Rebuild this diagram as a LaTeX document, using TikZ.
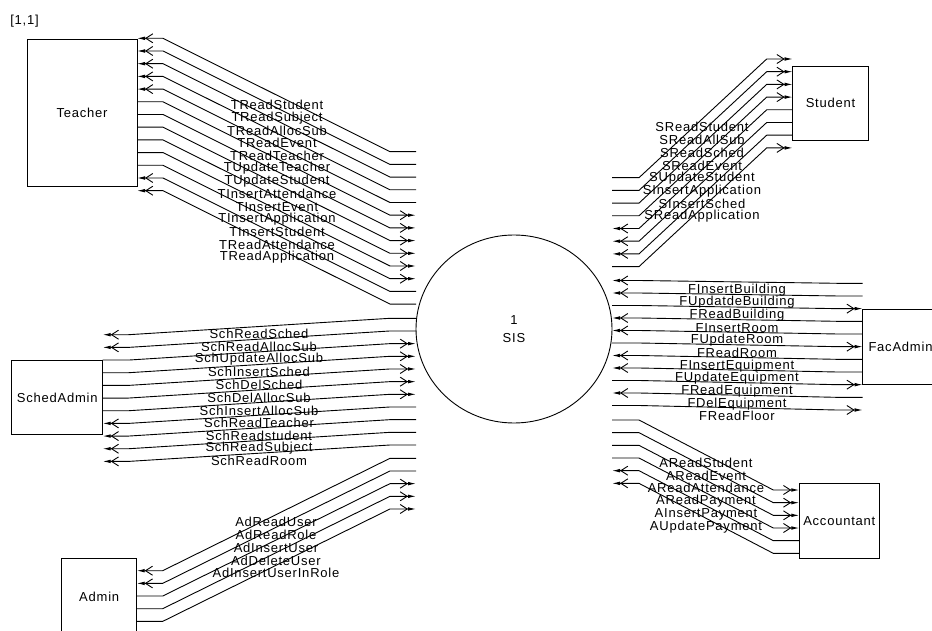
\documentclass[tikz,border=0pt]{standalone}
\usepackage{fontspec}
\setmainfont{Liberation Sans}[LetterSpace=6]
\usetikzlibrary{arrows.meta,shapes.geometric,calc}

\tikzset{
  txt/.style={font=\fontsize{13}{16}\selectfont},
  lbl/.style={txt, inner sep=0pt},
  entity/.style={draw, line width=0.9pt, rectangle, inner sep=0pt, outer sep=0pt, txt},
  process/.style={draw, line width=0.9pt, ellipse, inner sep=0pt, outer sep=0pt, align=center,
    font=\fontsize{13}{18.3}\selectfont},
  flow/.style={line width=0.9pt},
  atend/.style={-{Straight Barb[length=7pt,width=9pt]Latex[length=8pt,width=3.6pt]}},
  atstart/.style={{Latex[length=8pt,width=3.6pt]Straight Barb[length=7pt,width=9pt]}-},
}

\begin{document}
\begin{tikzpicture}[x=1pt,y=-1pt]
\useasboundingbox (0,0) rectangle (932,631);
\clip (0,0) rectangle (932,631);

% external entities and the process
\node[lbl] (coord) at (24.5,21) {[1,1]};
\node[entity, minimum width=110pt, minimum height=146.7pt] (teacher) at (82,113.3) {Teacher};
\node[entity, minimum width=91pt, minimum height=74pt] (sched) at (57.2,397.7) {SchedAdmin};
\node[entity, minimum width=75pt, minimum height=76.7pt] (admin) at (99.2,596.7) {Admin};
\node[entity, minimum width=75.6pt, minimum height=74pt] (student) at (830.5,103) {Student};
\node[entity, minimum width=75.6pt, minimum height=75pt] (facadmin) at (900.5,346.5) {FacAdmin};
\node[entity, minimum width=80pt, minimum height=75pt] (accountant) at (839.3,520.8) {Accountant};
\node[process, minimum width=196pt, minimum height=188pt] (sis) at (514,329) {1\\SIS};

% Teacher <-> SIS
\foreach \lab/\tip [count=\i from 0] in {TReadStudent/atstart, TReadSubject/atstart,
    TReadAllocSub/atstart, TReadEvent/atstart, TReadTeacher/atstart, TUpdateTeacher/atend,
    TUpdateStudent/atend, TInsertAttendance/atend, TInsertEvent/atend, TInsertApplication/atend,
    TInsertStudent/atend, TReadAttendance/atstart, TReadApplication/atstart}{
  \pgfmathsetmacro\yl{38.3+12.7*\i}
  \pgfmathsetmacro\yr{151.7+12.7*\i}
  \pgfmathsetmacro\yt{105+12.7*\i}
  \draw[flow,\tip] (teacher.east |- 0,\yl) -- ++(26,0)
    -- ($(sis.west |- 0,\yr)+(-26,0)$) -- (sis.west |- 0,\yr);
  \node[lbl] (t\i) at (277,\yt) {\lab};
}

% SchedAdmin <-> SIS
\foreach \lab/\tip [count=\i from 0] in {SchReadSched/atstart, SchReadAllocSub/atstart,
    SchUpdateAllocSub/atend, SchInsertSched/atend, SchDelSched/atend, SchDelAllocSub/atend,
    SchInsertAllocSub/atend, SchReadTeacher/atstart, SchReadstudent/atstart,
    SchReadSubject/atstart, SchReadRoom/atstart}{
  \pgfmathsetmacro\yl{334.7+12.67*\i}
  \pgfmathsetmacro\yr{318.3+12.67*\i}
  \pgfmathsetmacro\yt{334+12.73*\i}
  \draw[flow,\tip] (sched.east |- 0,\yl) -- ++(26,0)
    -- ($(sis.west |- 0,\yr)+(-26,0)$) -- (sis.west |- 0,\yr);
  \node[lbl] (sa\i) at (259,\yt) {\lab};
}

% Admin <-> SIS
\foreach \lab/\tip [count=\i from 0] in {AdReadUser/atstart, AdReadRole/atstart,
    AdInsertUser/atend, AdDeleteUser/atend, AdInsertUserInRole/atend}{
  \pgfmathsetmacro\yl{570.7+12.67*\i}
  \pgfmathsetmacro\yr{458.3+12.67*\i}
  \pgfmathsetmacro\yt{522.3+12.75*\i}
  \draw[flow,\tip] (admin.east |- 0,\yl) -- ++(26,0)
    -- ($(sis.west |- 0,\yr)+(-26,0)$) -- (sis.west |- 0,\yr);
  \node[lbl] (ad\i) at (276,\yt) {\lab};
}

% SIS <-> Student
\foreach \lab/\tip [count=\i from 0] in {SReadStudent/atend, SReadAllSub/atend,
    SReadSched/atend, SReadEvent/atend, SUpdateStudent/atstart, SInsertApplication/atstart,
    SInsertSched/atstart, SReadApplication/atend}{
  \pgfmathsetmacro\yl{177.7+12.7*\i}
  \pgfmathsetmacro\yr{59+12.7*\i}
  \pgfmathsetmacro\yt{127.3+12.7*\i}
  \draw[flow,\tip] (sis.east |- 0,\yl) -- ++(27,0)
    -- ($(student.west |- 0,\yr)+(-26,0)$) -- (student.west |- 0,\yr);
  \node[lbl] (st\i) at (702,\yt) {\lab};
}

% SIS <-> FacAdmin
\foreach \lab/\tip [count=\i from 0] in {FInsertBuilding/atstart, FUpdatdeBuilding/atstart,
    FReadBuilding/atend, FInsertRoom/atstart, FUpdateRoom/atstart, FReadRoom/atend,
    FInsertEquipment/atstart, FUpdateEquipment/atstart, FReadEquipment/atend,
    FDelEquipment/atstart, FReadFloor/atend}{
  \pgfmathsetmacro\yl{280.5+12.5*\i}
  \pgfmathsetmacro\yr{283.3+12.67*\i}
  \pgfmathsetmacro\yt{290+12.63*\i}
  \draw[flow,\tip] (sis.east |- 0,\yl) -- ++(27,0)
    -- ($(facadmin.west |- 0,\yr)+(-26,0)$) -- (facadmin.west |- 0,\yr);
  \node[lbl] (fa\i) at (737,\yt) {\lab};
}

% SIS <-> Accountant
\foreach \lab/\tip [count=\i from 0] in {AReadStudent/atend, AReadEvent/atend,
    AReadAttendance/atend, AReadPayment/atend, AInsertPayment/atstart, AUpdatePayment/atstart}{
  \pgfmathsetmacro\yl{420+12.67*\i}
  \pgfmathsetmacro\yr{490+12.67*\i}
  \pgfmathsetmacro\yt{462.7+12.8*\i}
  \draw[flow,\tip] (sis.east |- 0,\yl) -- ++(27,0)
    -- ($(accountant.west |- 0,\yr)+(-26,0)$) -- (accountant.west |- 0,\yr);
  \node[lbl] (ac\i) at (706,\yt) {\lab};
}
\end{tikzpicture}
\end{document}
